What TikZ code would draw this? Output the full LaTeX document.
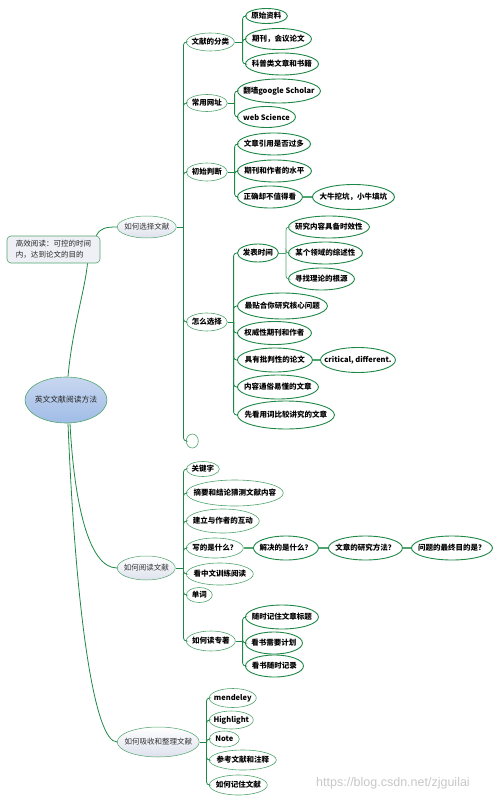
\documentclass[tikz,border=0pt]{standalone}
\usepackage{fontspec}
\setmainfont{Noto Sans CJK SC}
\newfontfamily\wmfont{Liberation Sans}
\usetikzlibrary{shapes.geometric}
\definecolor{gr}{RGB}{30,135,70}
\definecolor{grl}{RGB}{80,165,110}
\definecolor{lvbot}{RGB}{222,225,237}
\definecolor{rtop}{RGB}{200,215,240}
\definecolor{rbot}{RGB}{160,188,230}
\definecolor{notefill}{RGB}{238,240,245}
\newcommand\zb[1]{\makebox[0pt]{#1}}
\tikzset{
  base/.style={ellipse, inner sep=0pt, anchor=west, font=\fontsize{7.5}{9}\selectfont},
  sz/.style 2 args={minimum width=#1pt, minimum height=#2pt},
  lvone/.style={base, draw=grl, line width=0.5pt, top color=white, bottom color=lvbot, text=black!80},
  lvtwo/.style={base, draw=grl, line width=0.6pt, fill=white, font=\fontsize{7.5}{9}\selectfont\bfseries},
  leaf/.style={base, draw=gr, line width=0.9pt, fill=white, font=\fontsize{7.5}{9}\selectfont\bfseries},
  rootnode/.style={ellipse, inner sep=0pt, draw=grl, line width=0.6pt, top color=rtop, bottom color=rbot, font=\fontsize{7.8}{9}\selectfont, text=black!85},
  notebox/.style={rectangle, rounded corners=4pt, draw=grl, line width=0.6pt, fill=notefill, inner sep=0pt, font=\fontsize{7.5}{11}\selectfont, text=black!85},
  link/.style={draw=gr, line width=0.8pt},
  thinlink/.style={draw=grl, line width=0.8pt},
  chainlink/.style={draw=grl, line width=1.3pt},
  curvelink/.style={draw=gr, line width=0.8pt},
}
\begin{document}
\begin{tikzpicture}[x=1pt, y=-1pt]
\useasboundingbox (0,0) rectangle (499,802);

% root and note
\node[rootnode, minimum width=82pt, minimum height=46pt] (root) at (66,400) {\zb{英文文献阅读方法}};
\node[notebox, minimum width=93pt, minimum height=27pt, align=left] (note) at (53.5,249.5) {高效阅读：可控的时间\\内，达到论文的目的};

% level 1
\node[lvone, sz={59}{22}] (a) at (117,227) {\zb{如何选择文献}};
\node[lvone, sz={58}{24}] (b) at (117,568) {\zb{如何阅读文献}};
\node[lvone, sz={82}{30}] (c) at (117,742) {\zb{如何吸收和整理文献}};

% branch a
\node[lvtwo, sz={48}{18}] (a1) at (186,42) {\zb{文献的分类}};
\node[lvtwo, sz={41}{17}] (a2) at (186,103) {\zb{常用网址}};
\node[lvtwo, sz={41}{18}] (a3) at (186,172) {\zb{初始判断}};
\node[lvtwo, sz={41}{18}] (a4) at (186,322) {\zb{怎么选择}};
\node[lvtwo, sz={12}{14}] (a5) at (186,441) {};

\node[leaf, sz={42}{15}] (a1a) at (245,16) {\zb{原始资料}};
\node[leaf, sz={66}{21}] (a1b) at (245,39) {\zb{期刊，会议论文}};
\node[leaf, sz={73}{22}] (a1c) at (245,64) {\zb{科普类文章和书籍}};

\node[leaf, sz={83}{24}] (a2a) at (237,91) {\zb{翻墙google Scholar}};
\node[leaf, sz={58}{21}] (a2b) at (237,117) {\zb{web Science}};

\node[leaf, sz={73}{22}] (a3a) at (237,144) {\zb{文章引用是否过多}};
\node[leaf, sz={74}{22}] (a3b) at (237,171) {\zb{期刊和作者的水平}};
\node[leaf, sz={65}{22}] (a3c) at (237,197) {\zb{正确却不值得看}};
\node[leaf, sz={82}{25}] (a3c1) at (312,197) {\zb{大牛挖坑，小牛填坑}};

\node[leaf, sz={41}{18}] (a4a) at (237,253) {\zb{发表时间}};
\node[leaf, sz={81}{22}] (a4a1) at (288,227) {\zb{研究内容具备时效性}};
\node[leaf, sz={74}{22}] (a4a2) at (288,253) {\zb{某个领域的综述性}};
\node[leaf, sz={66}{22}] (a4a3) at (288,279) {\zb{寻找理论的根源}};
\node[leaf, sz={90}{26}] (a4b) at (237,306) {\zb{最贴合你研究核心问题}};
\node[leaf, sz={74}{23}] (a4c) at (237,333) {\zb{权威性期刊和作者}};
\node[leaf, sz={75}{24}] (a4d) at (237,360) {\zb{具有批判性的论文}};
\node[leaf, sz={75}{25}] (a4d1) at (320,360) {\zb{critical, different.}};
\node[leaf, sz={81}{24}] (a4e) at (237,387) {\zb{内容通俗易懂的文章}};
\node[leaf, sz={97}{28}] (a4f) at (237,415) {\zb{先看用词比较讲究的文章}};

% branch b
\node[lvtwo, sz={33}{15}] (b1) at (186,469) {\zb{关键字}};
\node[lvtwo, sz={97}{26}] (b2) at (186,493) {\zb{摘要和结论猜测文献内容}};
\node[lvtwo, sz={73}{24}] (b3) at (186,521) {\zb{建立与作者的互动}};
\node[lvtwo, sz={57}{20}] (b4) at (186,548) {\zb{写的是什么？}};
\node[leaf, sz={65}{24}] (b4a) at (253,548) {\zb{解决的是什么？}};
\node[leaf, sz={74}{24}] (b4b) at (328,548) {\zb{文章的研究方法？}};
\node[leaf, sz={81}{24}] (b4c) at (411,548) {\zb{问题的最终目的是？}};
\node[lvtwo, sz={67}{22}] (b5) at (186,574) {\zb{看中文训练阅读}};
\node[lvtwo, sz={26}{15}] (b6) at (186,595) {\zb{单词}};
\node[lvtwo, sz={49}{20}] (b7) at (186,641) {\zb{如何读专著}};
\node[leaf, sz={73}{24}] (b7a) at (245,617) {\zb{随时记住文章标题}};
\node[leaf, sz={57}{22}] (b7b) at (245,643) {\zb{看书需要计划}};
\node[leaf, sz={58}{22}] (b7c) at (245,666) {\zb{看书随时记录}};

% branch c
\node[lvtwo, sz={47}{19}] (c1) at (209,698) {\zb{mendeley}};
\node[lvtwo, sz={44}{18}] (c2) at (209,720) {\zb{Highlight}};
\node[lvtwo, sz={30}{16}] (c3) at (209,739) {\zb{Note}};
\node[lvtwo, sz={67}{20}] (c4) at (209,760) {\zb{参考文献和注释}};
\node[lvtwo, sz={58}{20}] (c5) at (209,785) {\zb{如何记住文献}};

% junctions
\coordinate (aj) at ([xshift=7pt]a.east);
\coordinate (a1j) at ([xshift=8pt]a1.east);
\coordinate (a2j) at ([xshift=7pt]a2.east);
\coordinate (a3j) at ([xshift=7pt]a3.east);
\coordinate (a4j) at ([xshift=6pt]a4.east);
\coordinate (a4aj) at ([xshift=7pt]a4a.east);
\coordinate (bj) at ([xshift=8pt]b.east);
\coordinate (b7j) at ([xshift=7pt]b7.east);
\coordinate (cj) at ([xshift=7pt]c.east);

\begin{scope}[rounded corners=3pt]
\draw[link] (a.east) -- (aj);
\foreach \n in {a1,a2,a3,a4,a5} \draw[link] (aj) |- (\n.west);
\draw[link] (a1.east) -- (a1j);
\foreach \n in {a1a,a1b,a1c} \draw[link] (a1j) |- (\n.west);
\draw[link] (a2.east) -- (a2j);
\foreach \n in {a2a,a2b} \draw[link] (a2j) |- (\n.west);
\draw[link] (a3.east) -- (a3j);
\foreach \n in {a3a,a3b,a3c} \draw[link] (a3j) |- (\n.west);
\draw[link] (a4.east) -- (a4j);
\foreach \n in {a4a,a4b,a4c,a4d,a4e,a4f} \draw[link] (a4j) |- (\n.west);
\draw[thinlink] (a4a.east) -- (a4aj);
\foreach \n in {a4a1,a4a2,a4a3} \draw[thinlink] (a4aj) |- (\n.west);
\draw[link] (b.east) -- (bj);
\foreach \n in {b1,b2,b3,b4,b5,b6,b7} \draw[link] (bj) |- (\n.west);
\draw[link] (b7.east) -- (b7j);
\foreach \n in {b7a,b7b,b7c} \draw[link] (b7j) |- (\n.west);
\draw[link] (c.east) -- (cj);
\foreach \n in {c1,c2,c3,c4,c5} \draw[link] (cj) |- (\n.west);
\end{scope}

\draw[chainlink] (a3c.east) -- (a3c1.west);
\draw[chainlink] (a4d.east) -- (a4d1.west);
\draw[chainlink] (b4.east) -- (b4a.west);
\draw[chainlink] (b4a.east) -- (b4b.west);
\draw[chainlink] (b4b.east) -- (b4c.west);

% root curves
\draw[curvelink] ([xshift=2pt]root.north) .. controls (72,330) and (85,290) .. ([xshift=34pt]note.south);
\draw[curvelink] ([xshift=-4pt]note.north east) .. controls (100,228) and (106,227) .. (a.west);
\draw[curvelink] ([xshift=4pt]root.south) .. controls (74,500) and (88,568) .. (b.west);
\draw[curvelink] ([xshift=2pt]root.south) .. controls (76,620) and (95,742) .. (c.west);

% watermark
\node[font=\wmfont\fontsize{12.5}{14}\selectfont, text=black!22] (wm) at (393,783) {https://blog.csdn.net/zjguilai};
\end{tikzpicture}
\end{document}
